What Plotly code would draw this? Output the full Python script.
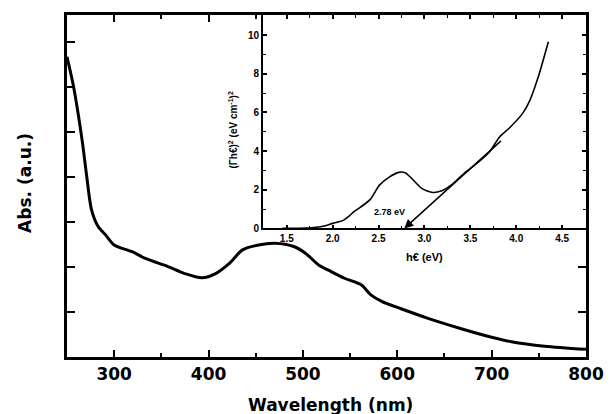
import plotly.graph_objects as go

# Main spectrum
wavelength = [250, 257, 266, 271, 276, 283, 291, 300, 319, 333, 357, 374, 393, 408, 422, 436, 453, 470,
              491, 503, 517, 527, 544, 562, 572, 584, 603, 631, 666, 700, 721, 756, 800]
absorbance = [6.67, 6.0, 4.82, 4.0, 3.27, 2.9, 2.71, 2.49, 2.34, 2.19, 2.01, 1.86, 1.76, 1.86, 2.08, 2.38, 2.49, 2.53,
              2.45, 2.30, 2.04, 1.93, 1.75, 1.60, 1.38, 1.23, 1.08, 0.87, 0.64, 0.44, 0.34, 0.24, 0.17]

# Inset Tauc plot
energy = [1.45, 1.77, 1.91, 2.0, 2.12, 2.18, 2.23, 2.30, 2.41, 2.51, 2.62, 2.72, 2.79, 2.86, 2.97, 3.09, 3.18,
          3.29, 3.43, 3.57, 3.71, 3.82, 3.92, 4.07, 4.15, 4.24, 4.35]
tauc = [0, 0.03, 0.12, 0.26, 0.43, 0.64, 0.86, 1.09, 1.5, 2.24, 2.67, 2.9, 2.88, 2.59, 2.07, 1.86, 1.93,
        2.24, 2.84, 3.36, 3.97, 4.74, 5.17, 5.95, 6.64, 7.84, 9.66]

# Tangent (band gap extrapolation)
tangent_start = (3.85, 4.6)
band_gap = 2.78

main_xticks = [300, 400, 500, 600, 700, 800]
inset_xticks = [1.5, 2.0, 2.5, 3.0, 3.5, 4.0, 4.5]
inset_yticks = [0, 2, 4, 6, 8, 10]

FONT = "Liberation Sans"
BIG = "DejaVu Sans"

fig = go.Figure()
fig.add_trace(go.Scatter(x=wavelength, y=absorbance, mode="lines",
                         line=dict(color="black", width=3, shape="spline", smoothing=0.8),
                         xaxis="x", yaxis="y", showlegend=False, hoverinfo="skip"))
fig.add_trace(go.Scatter(x=energy, y=tauc, mode="lines",
                         line=dict(color="black", width=1.6, shape="spline", smoothing=0.7),
                         xaxis="x2", yaxis="y2", showlegend=False, hoverinfo="skip"))

fig.update_layout(
    width=616, height=414,
    margin=dict(l=67, r=20, t=15, b=57),
    paper_bgcolor="white", plot_bgcolor="white",
    font=dict(family=FONT, color="black"),
    xaxis=dict(domain=[0, 1], range=[250, 800], tickvals=main_xticks, ticks="inside", ticklen=7, tickwidth=2,
               showline=True, linewidth=3, linecolor="black", mirror="ticks", showgrid=False, zeroline=False,
               tickfont=dict(size=17, family=BIG, weight="bold"),
               minor=dict(tickvals=[350, 450, 550, 650, 750], ticks="inside", ticklen=4, tickwidth=2, tickcolor="black"),
               tickcolor="black"),
    yaxis=dict(domain=[0, 1], range=[0, 7.6], tickvals=[1, 2, 3, 4, 5, 6, 7], ticks="inside", ticklen=8, tickwidth=2,
               showticklabels=False, showline=True, linewidth=3, linecolor="black", mirror="ticks",
               showgrid=False, zeroline=False, tickcolor="black"),
    xaxis2=dict(domain=[0.3775, 1.0], range=[1.24, 4.76], anchor="y2", tickvals=inset_xticks,
                ticktext=["1.5", "2.0", "2.5", "3.0", "3.5", "4.0", "4.5"],
                ticks="inside", ticklen=4, tickwidth=1.5, showline=True, linewidth=1.6, linecolor="black",
                mirror="ticks", showgrid=False, zeroline=False, tickcolor="black",
                tickfont=dict(size=10, family=FONT, weight="bold"),
                minor=dict(tickvals=[1.25, 1.75, 2.25, 2.75, 3.25, 3.75, 4.25, 4.75], ticks="inside", ticklen=3,
                           tickwidth=1.2, tickcolor="black")),
    yaxis2=dict(domain=[0.376, 1.0], range=[0, 11.04], anchor="x2", tickvals=inset_yticks,
                ticks="inside", ticklen=4, tickwidth=1.5, showline=True, linewidth=1.6, linecolor="black",
                mirror="ticks", showgrid=False, zeroline=False, tickcolor="black",
                tickfont=dict(size=10, family=FONT, weight="bold"),
                minor=dict(tickvals=[1, 3, 5, 7, 9], ticks="inside", ticklen=3, tickwidth=1.2, tickcolor="black")),
)

annotations = [
    dict(text="Wavelength (nm)", xref="paper", yref="paper", x=0.508, y=-0.140, showarrow=False,
         font=dict(size=17, family=BIG, weight="bold"), xanchor="center", yanchor="middle"),
    dict(text="Abs. (a.u.)", xref="paper", yref="paper", x=-0.081, y=0.509, showarrow=False, textangle=-90,
         font=dict(size=17, family=BIG, weight="bold"), xanchor="center", yanchor="middle"),
    dict(text="(Γh€)<sup>2</sup> (eV cm<sup>-1</sup>)<sup>2</sup>", xref="paper", yref="paper", x=0.319, y=0.664,
         showarrow=False, textangle=-90, font=dict(size=10, family=FONT, weight="bold"),
         xanchor="center", yanchor="middle"),
    dict(text="h€ (eV)", xref="paper", yref="paper", x=0.689, y=0.293, showarrow=False,
         font=dict(size=11, family=FONT, weight="bold"), xanchor="center", yanchor="middle"),
    dict(text="2.78 eV", xref="x2", yref="y2", x=2.62, y=0.85, showarrow=False,
         font=dict(size=9, family=FONT, weight="bold"), xanchor="center", yanchor="middle"),
    dict(x=band_gap, y=0, xref="x2", yref="y2", ax=tangent_start[0], ay=tangent_start[1], axref="x2", ayref="y2",
         showarrow=True, arrowhead=2, arrowsize=1.2, arrowwidth=1.5, arrowcolor="black", text=""),
]
fig.update_layout(annotations=annotations)

fig.write_html("out.html", config={"displayModeBar": False},
               post_script="document.body.style.margin='0';document.body.style.padding='0';"
                           "document.documentElement.style.overflow='hidden';")
